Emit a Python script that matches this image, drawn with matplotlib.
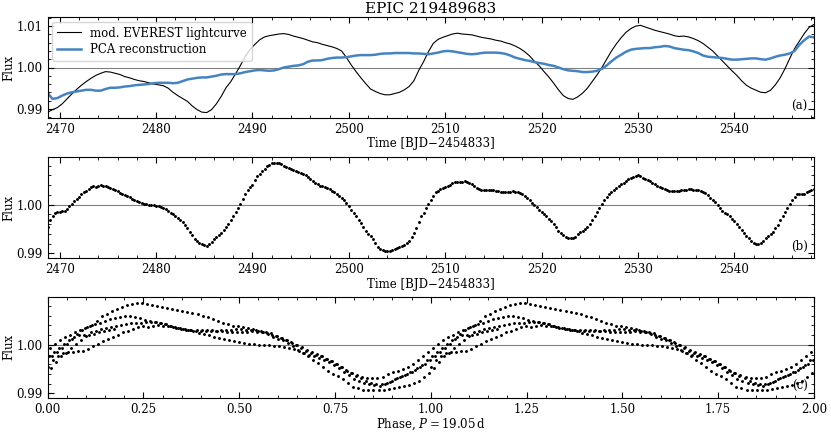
import numpy as np
import matplotlib
matplotlib.use("Agg")
import matplotlib.pyplot as plt
from matplotlib.ticker import AutoMinorLocator, FormatStrFormatter

plt.rcParams['font.family'] = 'DejaVu Serif'
plt.rcParams['mathtext.fontset'] = 'dejavuserif'
plt.rcParams['font.size'] = 8.5

# mod. EVEREST lightcurve (panel a), 0.5 d sampling from 2468.75
t0_a = 2468.75
step_a = 0.5
flux_a = [
    0.9892, 0.9898, 0.9903, 0.9912, 0.9924, 0.9936, 0.9947, 0.9957, 0.9966, 0.9974,
    0.9981, 0.9986, 0.9990, 0.9989, 0.9986, 0.9983, 0.9978, 0.9975, 0.9971, 0.9968,
    0.9966, 0.9963, 0.9960, 0.9958, 0.9956, 0.9950, 0.9940, 0.9932, 0.9925, 0.9918,
    0.9907, 0.9898, 0.9892, 0.9891, 0.9898, 0.9912, 0.9930, 0.9951, 0.9966, 0.9985,
    1.0005, 1.0027, 1.0044, 1.0056, 1.0067, 1.0074, 1.0077, 1.0079, 1.0081, 1.0082,
    1.0080, 1.0076, 1.0073, 1.0070, 1.0066, 1.0062, 1.0060, 1.0056, 1.0053, 1.0050,
    1.0046, 1.0040, 1.0024, 1.0006, 0.9990, 0.9975, 0.9961, 0.9948, 0.9942, 0.9937,
    0.9934, 0.9934, 0.9937, 0.9940, 0.9946, 0.9954, 0.9968, 0.9993, 1.0014, 1.0038,
    1.0058, 1.0068, 1.0073, 1.0077, 1.0081, 1.0083, 1.0081, 1.0080, 1.0079, 1.0076,
    1.0073, 1.0071, 1.0069, 1.0066, 1.0064, 1.0060, 1.0057, 1.0052, 1.0046, 1.0038,
    1.0028, 1.0015, 1.0004, 0.9990, 0.9977, 0.9962, 0.9946, 0.9932, 0.9925, 0.9923,
    0.9929, 0.9938, 0.9950, 0.9966, 0.9982, 1.0000, 1.0020, 1.0040, 1.0057, 1.0072,
    1.0085, 1.0094, 1.0100, 1.0102, 1.0098, 1.0094, 1.0090, 1.0087, 1.0084, 1.0081,
    1.0077, 1.0075, 1.0076, 1.0074, 1.0070, 1.0065, 1.0058, 1.0049, 1.0040, 1.0028,
    1.0016, 1.0004, 0.9992, 0.9981, 0.9968, 0.9957, 0.9950, 0.9945, 0.9940, 0.9939,
    0.9945, 0.9958, 0.9975, 0.9997, 1.0022, 1.0046, 1.0064, 1.0082, 1.0097, 1.0104,
]

# PCA reconstruction (panel a), same sampling
flux_pca = [
    0.9938, 0.9924, 0.9926, 0.9932, 0.9937, 0.9940, 0.9942, 0.9944, 0.9946, 0.9946,
    0.9944, 0.9944, 0.9948, 0.9951, 0.9951, 0.9952, 0.9954, 0.9955, 0.9957, 0.9958,
    0.9959, 0.9960, 0.9962, 0.9963, 0.9963, 0.9963, 0.9962, 0.9963, 0.9967, 0.9971,
    0.9973, 0.9975, 0.9976, 0.9976, 0.9978, 0.9980, 0.9983, 0.9984, 0.9984, 0.9984,
    0.9986, 0.9989, 0.9991, 0.9993, 0.9994, 0.9993, 0.9992, 0.9993, 0.9996, 1.0000,
    1.0002, 1.0004, 1.0005, 1.0008, 1.0014, 1.0017, 1.0017, 1.0018, 1.0021, 1.0023,
    1.0024, 1.0024, 1.0025, 1.0027, 1.0029, 1.0030, 1.0030, 1.0030, 1.0031, 1.0033,
    1.0034, 1.0034, 1.0035, 1.0035, 1.0035, 1.0035, 1.0034, 1.0034, 1.0033, 1.0032,
    1.0034, 1.0036, 1.0039, 1.0040, 1.0039, 1.0037, 1.0035, 1.0033, 1.0032, 1.0033,
    1.0035, 1.0036, 1.0036, 1.0036, 1.0035, 1.0033, 1.0029, 1.0024, 1.0021, 1.0018,
    1.0016, 1.0013, 1.0011, 1.0009, 1.0006, 1.0004, 1.0000, 0.9996, 0.9993, 0.9992,
    0.9991, 0.9989, 0.9989, 0.9990, 0.9992, 0.9997, 1.0005, 1.0015, 1.0024, 1.0031,
    1.0038, 1.0043, 1.0045, 1.0046, 1.0047, 1.0047, 1.0049, 1.0050, 1.0052, 1.0051,
    1.0047, 1.0045, 1.0043, 1.0042, 1.0039, 1.0035, 1.0029, 1.0026, 1.0025, 1.0024,
    1.0023, 1.0021, 1.0019, 1.0019, 1.0020, 1.0021, 1.0022, 1.0022, 1.0020, 1.0019,
    1.0022, 1.0026, 1.0029, 1.0031, 1.0034, 1.0040, 1.0055, 1.0066, 1.0075, 1.0073,
]

# detrended lightcurve (panels b and c), 0.25 d sampling from 2468.75
t0_b = 2468.75
step_b = 0.25
flux_b = [
    0.9955,
    0.9968, 0.9977, 0.9983, 0.9985,
    0.9986, 0.9987, 0.9988, 0.9991,
    0.9997, 1.0002, 1.0007, 1.0012,
    1.0016, 1.0021, 1.0026, 1.0029,
    1.0032, 1.0036, 1.0038, 1.0037,
    1.0038, 1.0040, 1.0039, 1.0038,
    1.0037, 1.0035, 1.0032, 1.0030,
    1.0028, 1.0025, 1.0023, 1.0020,
    1.0017, 1.0015, 1.0012, 1.0009,
    1.0007, 1.0005, 1.0003, 1.0002,
    1.0002, 1.0000, 0.9999, 0.9999,
    0.9998, 0.9997, 0.9995, 0.9993,
    0.9991, 0.9988, 0.9984, 0.9980,
    0.9976, 0.9972, 0.9968, 0.9964,
    0.9959, 0.9952, 0.9945, 0.9937,
    0.9929, 0.9925, 0.9922, 0.9919,
    0.9917, 0.9916, 0.9919, 0.9923,
    0.9929, 0.9933, 0.9938, 0.9943,
    0.9948, 0.9955, 0.9961, 0.9968,
    0.9976, 0.9985, 0.9993, 1.0002,
    1.0012, 1.0022, 1.0031, 1.0036,
    1.0041, 1.0050, 1.0059, 1.0064,
    1.0069, 1.0074, 1.0079, 1.0082,
    1.0085, 1.0086, 1.0086, 1.0085,
    1.0083, 1.0080, 1.0078, 1.0076,
    1.0074, 1.0071, 1.0069, 1.0068,
    1.0066, 1.0063, 1.0060, 1.0057,
    1.0053, 1.0049, 1.0045, 1.0042,
    1.0039, 1.0038, 1.0037, 1.0035,
    1.0032, 1.0029, 1.0026, 1.0022,
    1.0017, 1.0013, 1.0009, 1.0004,
    0.9998, 0.9990, 0.9983, 0.9976,
    0.9969, 0.9962, 0.9955, 0.9947,
    0.9940, 0.9935, 0.9929, 0.9921,
    0.9914, 0.9910, 0.9907, 0.9906,
    0.9906, 0.9906, 0.9907, 0.9909,
    0.9912, 0.9913, 0.9915, 0.9918,
    0.9921, 0.9926, 0.9933, 0.9942,
    0.9952, 0.9964, 0.9976, 0.9984,
    0.9993, 1.0002, 1.0010, 1.0018,
    1.0026, 1.0029, 1.0032, 1.0035,
    1.0037, 1.0039, 1.0041, 1.0044,
    1.0046, 1.0046, 1.0046, 1.0047,
    1.0048, 1.0047, 1.0045, 1.0042,
    1.0039, 1.0035, 1.0032, 1.0031,
    1.0031, 1.0030, 1.0030, 1.0030,
    1.0030, 1.0029, 1.0028, 1.0027,
    1.0026, 1.0026, 1.0026, 1.0027,
    1.0028, 1.0027, 1.0026, 1.0024,
    1.0021, 1.0018, 1.0014, 1.0009,
    1.0003, 0.9999, 0.9995, 0.9990,
    0.9986, 0.9981, 0.9976, 0.9971,
    0.9966, 0.9960, 0.9954, 0.9947,
    0.9941, 0.9937, 0.9934, 0.9932,
    0.9931, 0.9932, 0.9934, 0.9939,
    0.9945, 0.9947, 0.9950, 0.9955,
    0.9961, 0.9968, 0.9976, 0.9985,
    0.9993, 1.0002, 1.0010, 1.0016,
    1.0021, 1.0026, 1.0030, 1.0034,
    1.0038, 1.0042, 1.0045, 1.0049,
    1.0053, 1.0055, 1.0057, 1.0059,
    1.0060, 1.0058, 1.0055, 1.0052,
    1.0050, 1.0048, 1.0045, 1.0042,
    1.0039, 1.0036, 1.0034, 1.0032,
    1.0030, 1.0029, 1.0028, 1.0028,
    1.0028, 1.0029, 1.0030, 1.0031,
    1.0031, 1.0032, 1.0032, 1.0031,
    1.0031, 1.0030, 1.0028, 1.0026,
    1.0024, 1.0019, 1.0014, 1.0010,
    1.0005, 0.9999, 0.9993, 0.9988,
    0.9984, 0.9980, 0.9976, 0.9971,
    0.9966, 0.9960, 0.9954, 0.9948,
    0.9941, 0.9936, 0.9931, 0.9926,
    0.9921, 0.9919, 0.9919, 0.9922,
    0.9926, 0.9931, 0.9936, 0.9940,
    0.9945, 0.9952, 0.9959, 0.9968,
    0.9976, 0.9985, 0.9993, 1.0002,
    1.0010, 1.0016, 1.0021, 1.0021,
    1.0021, 1.0023, 1.0026, 1.0028,
    1.0031, 1.0033,
]

period = 19.05

t_a = t0_a + step_a * np.arange(len(flux_a))
t_pca = t0_a + step_a * np.arange(len(flux_pca))
t_b = t0_b + step_b * np.arange(len(flux_b))
phase = ((t_b - t_b[0]) / period) % 1.0

fig = plt.figure(figsize=(8.31, 4.32), dpi=100)
ax1 = fig.add_axes([0.0574, 0.727, 0.922, 0.2335])
ax2 = fig.add_axes([0.0574, 0.402, 0.922, 0.2335])
ax3 = fig.add_axes([0.0574, 0.0794, 0.922, 0.2335])

ax1.axhline(1.0, color='grey', lw=0.8, zorder=0)
ax1.plot(t_a, flux_a, color='k', lw=0.8, label='mod. EVEREST lightcurve')
ax1.plot(t_pca, flux_pca, color='#4584c0', lw=1.8, label='PCA reconstruction')
ax1.set_xlim(t_b[0], t_b[-1])
ax1.set_ylim(0.9878, 1.0122)
ax1.set_yticks([0.99, 1.00, 1.01])
ax1.set_title('EPIC 219489683', fontsize=11, pad=3)
ax1.set_xlabel('Time [BJD\u22122454833]', labelpad=1)
ax1.legend(loc='upper left', fontsize=8.5, handlelength=2.0, borderaxespad=0.4,
           labelspacing=0.3, edgecolor='0.8')
ax1.text(0.992, 0.05, '(a)', transform=ax1.transAxes, ha='right', va='bottom')

ax2.axhline(1.0, color='grey', lw=0.8, zorder=0)
ax2.plot(t_b, flux_b, 'k.', ms=2.2)
ax2.set_xlim(t_b[0], t_b[-1])
ax2.set_ylim(0.9890, 1.0097)
ax2.set_yticks([0.99, 1.00])
ax2.set_xlabel('Time [BJD\u22122454833]', labelpad=1)
ax2.text(0.992, 0.05, '(b)', transform=ax2.transAxes, ha='right', va='bottom')

ax3.axhline(1.0, color='grey', lw=0.8, zorder=0)
ax3.plot(phase, flux_b, 'k.', ms=2.2)
ax3.plot(phase + 1.0, flux_b, 'k.', ms=2.2)
ax3.set_xlim(0, 2)
ax3.set_ylim(0.9891, 1.0099)
ax3.set_yticks([0.99, 1.00])
ax3.set_xticks(np.arange(0, 2.01, 0.25))
ax3.xaxis.set_major_formatter(FormatStrFormatter('%.2f'))
ax3.set_xlabel(r'Phase, $P = 19.05\,\mathrm{d}$', labelpad=1)
ax3.text(0.992, 0.05, '(c)', transform=ax3.transAxes, ha='right', va='bottom')

for ax in (ax1, ax2, ax3):
    ax.set_ylabel('Flux', labelpad=1)
    ax.yaxis.set_major_formatter(FormatStrFormatter('%.2f'))
    ax.xaxis.set_minor_locator(AutoMinorLocator())
    ax.yaxis.set_minor_locator(AutoMinorLocator())
    ax.tick_params(which='both', direction='in', top=True, right=True)
    ax.tick_params(which='major', length=4, width=0.8)
    ax.tick_params(which='minor', length=2, width=0.6)

fig.savefig('out.png', dpi=100)
